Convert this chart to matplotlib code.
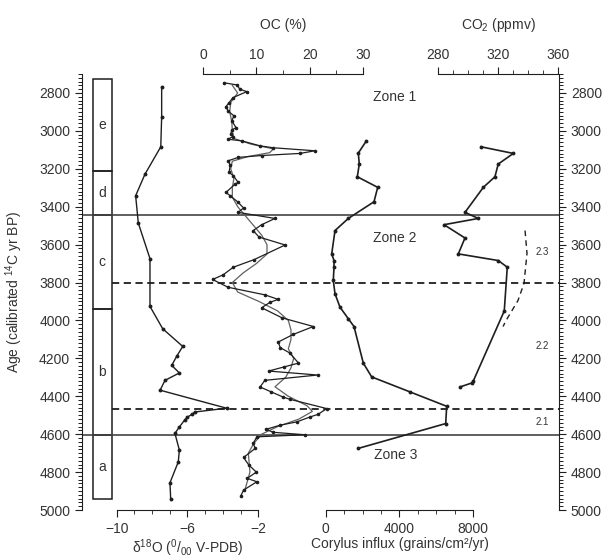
import matplotlib.pyplot as plt
from matplotlib.patches import Rectangle
from matplotlib.ticker import MultipleLocator, FixedLocator

plt.rcParams['font.family'] = ['Liberation Sans', 'DejaVu Sans']
plt.rcParams['mathtext.fontset'] = 'custom'
plt.rcParams['mathtext.rm'] = 'Liberation Sans'
plt.rcParams['mathtext.it'] = 'Liberation Sans:italic'
plt.rcParams['mathtext.bf'] = 'Liberation Sans:bold'

INK = '#1e1e1e'
TXT = '#333333'

# ---- data (age in calibrated 14C yr BP) ----
d18o_age = [2767, 2926, 3084, 3228, 3342, 3486, 3674, 3926, 4044, 4137, 4189, 4237,
            4277, 4316, 4368, 4463, 4483, 4495, 4510, 4523, 4562, 4596, 4684, 4746,
            4856, 4942]
d18o = [-7.46, -7.46, -7.51, -8.40, -8.93, -8.78, -8.12, -8.12, -7.40, -6.27, -6.61, -6.89,
        -6.46, -7.27, -7.55, -3.79, -5.58, -5.75, -6.0, -6.14, -6.46, -6.71, -6.46, -6.52,
        -6.99, -6.95]

oc_age = [2746, 2758, 2780, 2793, 2825, 2851, 2872, 2895, 2921, 2947, 2983, 2995,
          3017, 3030, 3044, 3053, 3079, 3089, 3105, 3119, 3130, 3140, 3158, 3179,
          3219, 3237, 3272, 3281, 3325, 3342, 3377, 3407, 3430, 3462, 3495, 3526,
          3560, 3602, 3679, 3719, 3759, 3784, 3825, 3865, 3889, 3904, 3933, 3986,
          4032, 4074, 4114, 4144, 4172, 4225, 4246, 4267, 4288, 4316, 4351, 4377,
          4404, 4416, 4465, 4495, 4509, 4535, 4553, 4574, 4590, 4603, 4614, 4649,
          4675, 4723, 4763, 4800, 4833, 4851, 4895, 4925]
oc_raw = [3.9, 6.4, 6.9, 8.2, 5.6, 4.9, 4.3, 4.7, 5.8, 5.4, 6.2, 5.4,
          5.2, 5.6, 4.7, 7.3, 10.7, 13.1, 21.0, 18.2, 11.0, 6.6, 4.7, 5.1,
          4.9, 5.7, 6.6, 6.0, 4.3, 5.1, 6.6, 7.6, 6.6, 13.5, 11.0, 9.4,
          10.5, 15.4, 9.6, 5.7, 3.8, 1.8, 4.7, 11.6, 14.1, 12.6, 11.0, 14.8,
          20.7, 16.9, 14.1, 14.5, 16.3, 17.9, 15.1, 12.3, 21.5, 11.6, 10.7, 12.8,
          15.0, 16.3, 23.2, 21.6, 20.1, 17.6, 14.4, 11.9, 13.1, 19.1, 10.1, 9.4,
          9.8, 7.6, 8.6, 10.0, 8.3, 10.1, 7.6, 7.1]

oc_smooth_age = [2760, 2800, 2850, 2900, 2950, 3000, 3040, 3070, 3095, 3115, 3135, 3160,
                 3200, 3250, 3300, 3350, 3400, 3450, 3500, 3550, 3600, 3650, 3700, 3750,
                 3800, 3850, 3900, 3950, 4000, 4050, 4100, 4150, 4200, 4250, 4300, 4350,
                 4400, 4450, 4480, 4520, 4560, 4600, 4650, 4700, 4800, 4900]
oc_smooth = [5.5, 6.5, 5.2, 5.0, 5.4, 5.5, 5.8, 9.0, 13.2, 12.5, 8.5, 5.5,
             5.2, 5.8, 5.5, 5.5, 6.5, 8.0, 9.5, 11.0, 12.0, 12.0, 10.0, 7.5,
             5.5, 6.5, 10.5, 14.0, 16.0, 16.5, 16.5, 16.0, 17.0, 16.5, 15.5, 13.5,
             16.0, 19.5, 20.5, 18.0, 14.0, 11.0, 9.5, 8.5, 8.8, 7.8]

cor_age = [3056, 3117, 3175, 3242, 3298, 3374, 3462, 3526, 3649, 3684, 3719, 3789,
           3859, 3930, 3991, 4032, 4225, 4298, 4377, 4453, 4544, 4675]
corylus = [2184, 1767, 1821, 1713, 2818, 2618, 1225, 504, 325, 450, 450, 412,
           504, 775, 1225, 1534, 2038, 2493, 4569, 6558, 6504, 1767]

co2_age = [3084, 3119, 3175, 3242, 3298, 3430, 3462, 3495, 3565, 3649, 3684, 3719,
           3950, 4320, 4330, 4351]
co2 = [308.6, 330.0, 320.0, 317.8, 310.1, 297.9, 306.8, 284.0, 297.9, 293.5, 320.0, 326.0,
       324.0, 303.4, 302.4, 294.6]

# dashed trend drawn beside the CO2 curve (zone 2.3 -> 2.2)
trend_age = [3526, 3647, 3805, 3895, 4000, 4032]
trend_co2 = [337.8, 339.1, 337.1, 333.1, 325.2, 323.2]

zone_bounds = [2728, 3210, 3445, 3942, 4605, 4942]
zone_names = ['e', 'd', 'c', 'b', 'a']
solid_lines = [3445, 4605]
dashed_lines = [3800, 4465]

# ---- figure ----
W, H = 603, 559
X0, X1, YTOP, YBOT = 82, 559, 74, 510
fig = plt.figure(figsize=(W / 100, H / 100), dpi=100)
ax = fig.add_axes([X0 / W, 1 - YBOT / H, (X1 - X0) / W, (YBOT - YTOP) / H])
ax.set_xlim(0, 1)
ax.set_ylim(5000, 2700)
ax.spines['top'].set_visible(False)
ax.spines['bottom'].set_visible(False)
for s in ('left', 'right'):
    ax.spines[s].set_color(INK)
ax.xaxis.set_visible(False)
ax.yaxis.set_major_locator(MultipleLocator(200))
ax.yaxis.set_minor_locator(MultipleLocator(20))
ax.tick_params(axis='y', which='both', direction='out', right=True, labelright=True,
               colors=INK, labelcolor=TXT, labelsize=10)
ax.tick_params(axis='y', which='major', length=5)
ax.tick_params(axis='y', which='minor', length=3, width=0.7)
ax.set_yticks(range(2800, 5001, 200))
ax.set_ylabel('Age (calibrated $^{14}$C yr BP)', fontsize=10, color=TXT, labelpad=10)


def px_frac(p):
    return (p - X0) / (X1 - X0)


box_l, box_r = px_frac(92.7), px_frac(111.7)
for top, bot, name in zip(zone_bounds[:-1], zone_bounds[1:], zone_names):
    ax.add_patch(Rectangle((box_l, top), box_r - box_l, bot - top, fill=False,
                           ec=INK, lw=1.1))
    ax.text((box_l + box_r) / 2, (top + bot) / 2, name, ha='center', va='center',
            fontsize=10, color=TXT)

for a in solid_lines:
    ax.axhline(a, color='#444444', lw=1.2)
for a in dashed_lines:
    ax.hlines(a, box_r, 1, colors=INK, lw=1.3, linestyles=(0, (4, 2.5)))

ax.text(px_frac(395), 2820, 'Zone 1', ha='center', va='center', fontsize=10, color=TXT)
ax.text(px_frac(395), 3563, 'Zone 2', ha='center', va='center', fontsize=10, color=TXT)
ax.text(px_frac(396), 4710, 'Zone 3', ha='center', va='center', fontsize=10, color=TXT)
ax.text(px_frac(542), 3640, '2.3', ha='center', va='center', fontsize=7, color=TXT)
ax.text(px_frac(542), 4137, '2.2', ha='center', va='center', fontsize=7, color=TXT)
ax.text(px_frac(542), 4535, '2.1', ha='center', va='center', fontsize=7, color=TXT)


def twin(v0, p0, k, side, bounds, major, minor, label, labelpad):
    t = ax.twiny()
    lo, hi = v0 - (p0 - X0) / k, v0 + (X1 - p0) / k
    t.set_xlim(lo, hi)
    for s in t.spines.values():
        s.set_visible(False)
    t.spines[side].set_visible(True)
    t.spines[side].set_bounds(*bounds)
    t.spines[side].set_color(INK)
    t.xaxis.set_ticks_position(side)
    t.xaxis.set_label_position(side)
    t.xaxis.set_major_locator(FixedLocator(major))
    t.xaxis.set_minor_locator(FixedLocator(minor))
    t.tick_params(axis='x', which='both', direction='out', colors=INK,
                  labelcolor=TXT, labelsize=10)
    t.tick_params(axis='x', which='major', length=5)
    t.tick_params(axis='x', which='minor', length=3)
    mid = ((bounds[0] + bounds[1]) / 2 - lo) / (hi - lo)
    t.set_xlabel(label, fontsize=10, color=TXT, labelpad=labelpad, x=mid)
    return t


ax_d = twin(-10, 116.7, 17.7, 'bottom', (-10, -2), [-10, -6, -2],
            [-9, -8, -7, -5, -4, -3], 'δ$^{18}$O ($^{0}$/$_{00}$ V-PDB)', 1)
ax_oc = twin(0, 203, 5.333, 'top', (0, 30), [0, 10, 20, 30], [5, 15, 25], 'OC (%)', 14)
ax_co = twin(0, 325.7, 0.01845, 'bottom', (0, 8000), [0, 4000, 8000],
             [1000, 2000, 3000, 5000, 6000, 7000], 'Corylus influx (grains/cm²/yr)', 1)
ax_c2 = twin(280, 438, 1.506, 'top', (280, 360), [280, 320, 360],
             [290, 300, 310, 330, 340, 350], 'CO$_2$ (ppmv)', 14)

ax_d.plot(d18o, d18o_age, '-o', color=INK, lw=1.0, ms=1.8)
ax_oc.plot(oc_smooth, oc_smooth_age, '-', color='#606060', lw=0.9)
ax_oc.plot(oc_raw, oc_age, '-o', color=INK, lw=0.9, ms=1.6)
ax_co.plot(corylus, cor_age, '-o', color=INK, lw=1.2, ms=1.8)
ax_c2.plot(co2, co2_age, '-o', color=INK, lw=1.2, ms=1.8)
ax_c2.plot(trend_co2, trend_age, color=INK, lw=1.0, ls=(0, (4, 3)))

fig.savefig('out.png', dpi=100)
